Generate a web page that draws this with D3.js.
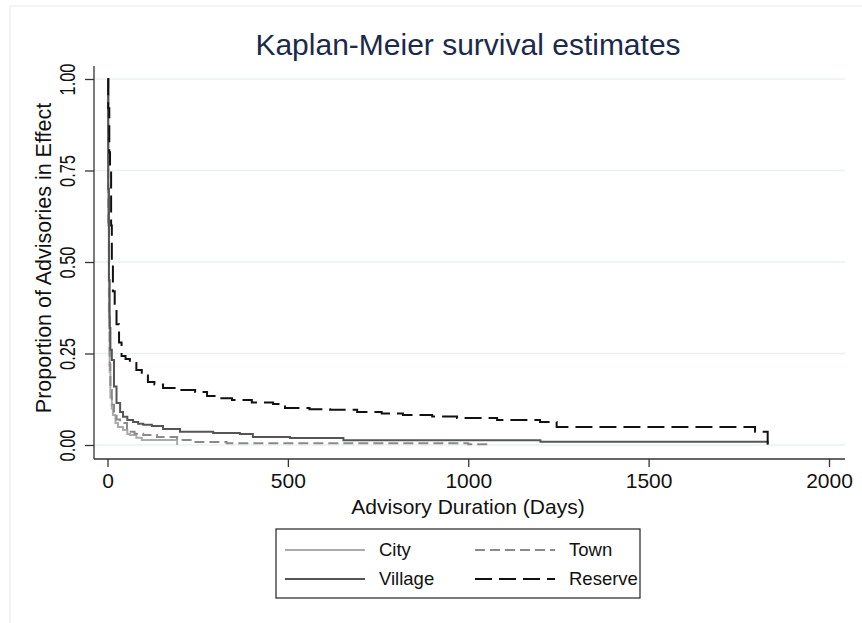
<!DOCTYPE html>
<html>
<head>
<meta charset="utf-8">
<script src="https://cdn.jsdelivr.net/npm/d3@7"></script>
<style>
  body { margin: 0; background: #fff; }
  text { font-family: "Liberation Sans", Arial, sans-serif; }
</style>
</head>
<body>
<div id="chart"></div>
<script>
// Kaplan-Meier step data (days, survival proportion)
var cityDays = [0, 2, 4, 6, 8, 12, 15, 22, 29, 43, 55, 62, 80, 95, 193];
var citySurv = [1, 0.6, 0.35, 0.2, 0.13, 0.1, 0.082, 0.06, 0.049, 0.041, 0.03, 0.027, 0.02, 0.014, 0];

var townDays = [0, 2, 4, 6, 8, 12, 18, 25, 35, 54, 75, 99, 137, 193, 240, 330, 1000, 1066];
var townSurv = [1, 0.6, 0.35, 0.22, 0.15, 0.11, 0.085, 0.07, 0.06, 0.036, 0.031, 0.027, 0.022, 0.014, 0.008, 0.005, 0.002, 0.002];

var villageDays = [0, 2, 4, 6, 8, 12, 18, 25, 35, 43, 55, 71, 85, 99, 123, 154, 201, 293, 367, 403, 506, 654, 1200, 1830];
var villageSurv = [1, 0.7, 0.45, 0.32, 0.26, 0.232, 0.16, 0.115, 0.09, 0.077, 0.068, 0.063, 0.058, 0.055, 0.052, 0.044, 0.036, 0.033, 0.030, 0.022, 0.019, 0.013, 0.009, 0];

var reserveDays = [0, 2, 5, 7, 10, 12, 15, 20, 25, 32, 39, 50, 62, 80, 95, 112, 130, 154, 193, 243, 276, 310, 345, 400, 459, 492, 560, 617, 692, 760, 819, 900, 969, 1080, 1199, 1245, 1795, 1830];
var reserveSurv = [1, 0.92, 0.8, 0.75, 0.6, 0.5, 0.42, 0.37, 0.33, 0.28, 0.243, 0.235, 0.224, 0.205, 0.19, 0.172, 0.165, 0.156, 0.150, 0.145, 0.134, 0.128, 0.123, 0.116, 0.112, 0.101, 0.098, 0.096, 0.090, 0.086, 0.082, 0.078, 0.074, 0.068, 0.063, 0.049, 0.036, 0];

var xTicks = [0, 500, 1000, 1500, 2000];
var yTicks = [0, 0.25, 0.5, 0.75, 1];
var yTickLabels = ["0.00", "0.25", "0.50", "0.75", "1.00"];

var series = [
    { name: "City", days: cityDays, surv: citySurv, color: "#ababab", dash: null },
    { name: "Town", days: townDays, surv: townSurv, color: "#8a8a8a", dash: "10,5" },
    { name: "Village", days: villageDays, surv: villageSurv, color: "#555555", dash: null },
    { name: "Reserve", days: reserveDays, surv: reserveSurv, color: "#111111", dash: "17,7" }
];

var width = 862, height = 623;

var svg = d3.select("#chart").append("svg")
    .attr("width", width)
    .attr("height", height);

// pale outer frame
svg.append("rect")
    .attr("x", 10).attr("y", 6)
    .attr("width", 900).attr("height", 700)
    .attr("fill", "none")
    .attr("stroke", "#edf2f3")
    .attr("stroke-width", 1.5);

var x = d3.scaleLinear().domain([0, 2000]).range([107.5, 829]);
var y = d3.scaleLinear().domain([0, 1]).range([445, 79]);

var plotLeft = 94, plotRight = 845, plotBottom = 459, plotTop = 66;

// grid
svg.append("g")
    .selectAll("line")
    .data(yTicks)
    .enter().append("line")
    .attr("x1", plotLeft).attr("x2", plotRight)
    .attr("y1", function (d) { return y(d); })
    .attr("y2", function (d) { return y(d); })
    .attr("stroke", "#eaf1f2")
    .attr("stroke-width", 1.5);

// title
svg.append("text")
    .attr("x", 468).attr("y", 55)
    .attr("text-anchor", "middle")
    .attr("fill", "#1b2a4a")
    .style("font-size", "30px")
    .text("Kaplan-Meier survival estimates");

// x axis
var xAxis = svg.append("g")
    .attr("transform", "translate(0," + plotBottom + ")")
    .call(d3.axisBottom(x).tickValues(xTicks).tickSize(8).tickPadding(6).tickFormat(d3.format("d")));
xAxis.select(".domain").attr("d", "M" + plotLeft + ",0H" + plotRight);
xAxis.selectAll("line, path").attr("stroke", "#333").attr("stroke-width", 1.3);
xAxis.selectAll("text").attr("fill", "#111").style("font-size", "21px");

svg.append("text")
    .attr("x", 468).attr("y", 514)
    .attr("text-anchor", "middle")
    .attr("fill", "#111")
    .style("font-size", "21px")
    .text("Advisory Duration (Days)");

// y axis
var yAxis = svg.append("g")
    .attr("transform", "translate(" + plotLeft + ",0)")
    .call(d3.axisLeft(y).tickValues(yTicks).tickSize(9).tickFormat(function (d, i) { return yTickLabels[i]; }));
yAxis.select(".domain").attr("d", "M0," + plotTop + "V" + plotBottom);
yAxis.selectAll("line, path").attr("stroke", "#333").attr("stroke-width", 1.3);
yAxis.selectAll("text")
    .attr("fill", "#111")
    .style("font-size", "22px")
    .attr("text-anchor", "middle")
    .attr("x", 0).attr("y", 0).attr("dy", 0)
    .attr("textLength", 32)
    .attr("lengthAdjust", "spacingAndGlyphs")
    .attr("transform", "translate(-19,0) rotate(-90)");

svg.append("text")
    .attr("transform", "translate(51,258) rotate(-90)")
    .attr("text-anchor", "middle")
    .attr("fill", "#111")
    .style("font-size", "21.5px")
    .text("Proportion of Advisories in Effect");

// curves
var line = d3.line()
    .x(function (d) { return x(d[0]); })
    .y(function (d) { return y(d[1]); })
    .curve(d3.curveStepAfter);

svg.append("g")
    .selectAll("path")
    .data(series)
    .enter().append("path")
    .attr("d", function (s) { return line(s.days.map(function (t, i) { return [t, s.surv[i]]; })); })
    .attr("fill", "none")
    .attr("stroke", function (s) { return s.color; })
    .attr("stroke-width", 2)
    .attr("stroke-dasharray", function (s) { return s.dash; });

// legend
var legend = svg.append("g");
legend.append("rect")
    .attr("x", 276).attr("y", 529)
    .attr("width", 364).attr("height", 69)
    .attr("fill", "#fff")
    .attr("stroke", "#222")
    .attr("stroke-width", 1.2);

var legendPos = [
    { lx: 285, ty: 550 }, { lx: 475, ty: 550 },
    { lx: 285, ty: 579 }, { lx: 475, ty: 579 }
];

var item = legend.selectAll(".item")
    .data(series)
    .enter().append("g")
    .attr("class", "item")
    .attr("transform", function (d, i) { return "translate(" + legendPos[i].lx + "," + legendPos[i].ty + ")"; });

item.append("line")
    .attr("x1", 0).attr("x2", 80)
    .attr("stroke", function (d) { return d.color; })
    .attr("stroke-width", 2)
    .attr("stroke-dasharray", function (d) { return d.dash; });

item.append("text")
    .attr("x", 94).attr("dy", "0.35em")
    .attr("fill", "#111")
    .style("font-size", "18.5px")
    .text(function (d) { return d.name; });
</script>
</body>
</html>
